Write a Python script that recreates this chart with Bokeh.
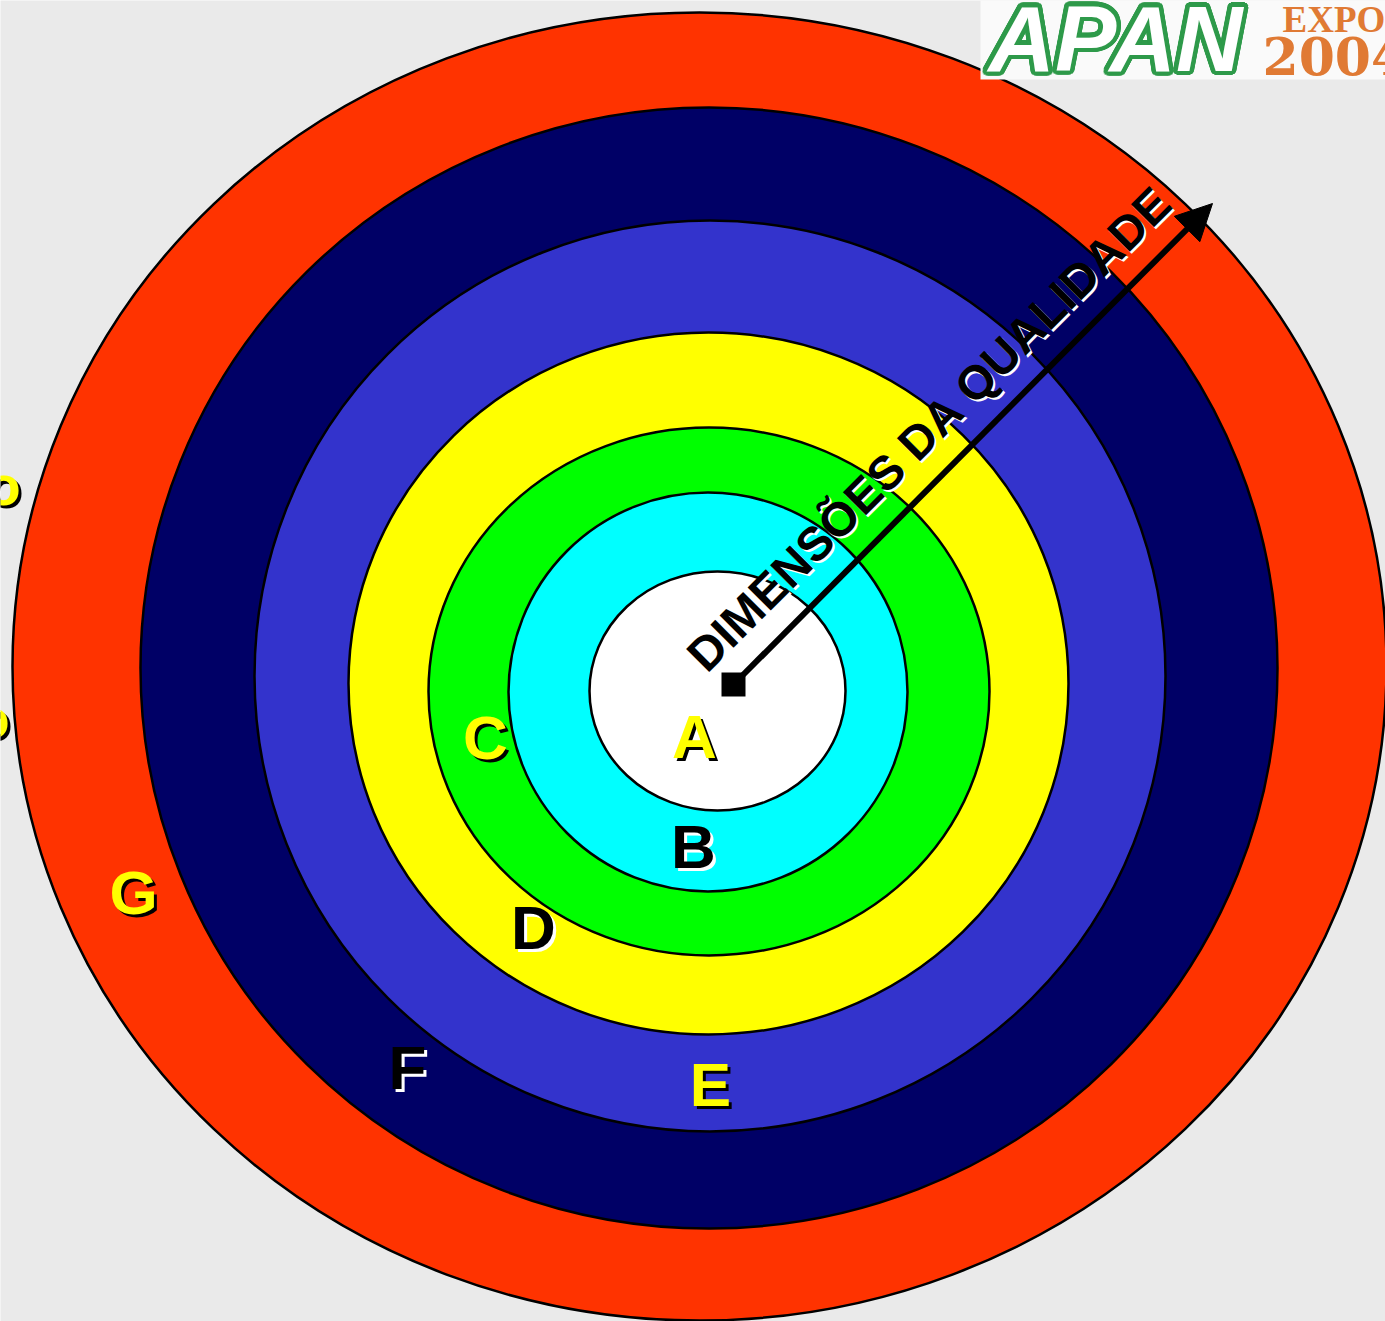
import numpy as np
from bokeh.plotting import figure
from bokeh.models import Range1d, Arrow, NormalHead, ColumnDataSource
from bokeh.core.properties import value
from bokeh.embed import file_html
from bokeh.resources import INLINE

# Slide size in page pixels (y measured downward in the reference)
W, H = 1385, 1321

# Concentric quality rings, outermost first
ring_labels = ["G", "F", "E", "D", "C", "B", "A"]
ring_colors = ["#FF3300", "#000066", "#3333CC", "#FFFF00", "#00FF00", "#00FFFF", "#FFFFFF"]
ring_cx = [699, 708.5, 709.5, 708, 708.5, 707.5, 717]
ring_cy = [666, 667.5, 675.5, 683, 691, 691.5, 690.5]
ring_w = [1374, 1137, 911, 720, 561, 399, 256]
ring_h = [1308, 1121, 911, 702, 528, 399, 239]

# Ring letters
label_x = [133, 407, 710, 533, 485, 693, 694]
label_y = [892, 1067, 1084, 927, 737, 846, 736]
label_color = ["#FFFF00", "#000000", "#FFFF00", "#000000", "#FFFF00", "#000000", "#FFFF00"]
label_shadow = ["#000000", "#FFFFFF", "#000000", "#FFFFFF", "#000000", "#FFFFFF", "#000000"]

# Axis arrow "DIMENSÕES DA QUALIDADE"
axis_title = "DIMENSÕES DA QUALIDADE"
axis_start = (733, 684)
axis_end = (1212, 203)
axis_title_pos = (929, 428)

# Cut-off text fragments at the left edge
frag_text = ["o", "o"]
frag_x = [3, -8]
frag_y = [485, 718]

# Logo texts
logo_main = "APAN"
logo_top = "EXPO"
logo_year = "2004"

BG = "#EAEAEA"


def Y(py):
    return H - py


p = figure(width=W, height=H,
           x_range=Range1d(0, W), y_range=Range1d(0, H),
           output_backend="svg", toolbar_location=None,
           x_axis_type=None, y_axis_type=None, min_border=0,
           background_fill_color=BG, border_fill_color=BG,
           outline_line_color=None)
p.grid.visible = False

# Rings
rings = ColumnDataSource(dict(
    x=ring_cx, y=[Y(v) for v in ring_cy], w=ring_w, h=ring_h, c=ring_colors,
    label=ring_labels))
p.ellipse(x="x", y="y", width="w", height="h", fill_color="c",
          line_color="black", line_width=2.5, source=rings)

# Logo box (top-right)
p.quad(left=[980], right=[1400], top=[Y(-10)], bottom=[Y(79)],
       fill_color="#FAFAFA", line_color=None)
font = value("Liberation Sans")
ang = np.linspace(0, 2 * np.pi, 24, endpoint=False)
logo_x, logo_y = 988, 38
p.text(x=list(logo_x + 4.5 * np.cos(ang)), y=list(Y(logo_y) + 4.5 * np.sin(ang)),
       text=[logo_main] * len(ang), text_font=font, text_font_style="bold italic",
       text_font_size="92px", text_color="#2E9A4A", text_align="left",
       text_baseline="middle")
p.text(x=[logo_x], y=[Y(logo_y)], text=[logo_main], text_font=font,
       text_font_style="bold italic", text_font_size="92px", text_color="#FFFFFF",
       text_align="left", text_baseline="middle")
p.text(x=[1282], y=[Y(19)], text=[logo_top], text_font=value("Liberation Serif"),
       text_font_style="bold", text_font_size="37px", text_color="#E07A34",
       text_align="left", text_baseline="middle")
p.text(x=[1262], y=[Y(55)], text=[logo_year], text_font=value("DejaVu Serif"),
       text_font_style="bold", text_font_size="52px", text_color="#E07A34",
       text_align="left", text_baseline="middle")

# Axis arrow
p.add_layout(Arrow(x_start=axis_start[0], y_start=Y(axis_start[1]),
                   x_end=axis_end[0], y_end=Y(axis_end[1]),
                   line_color="black", line_width=6,
                   end=NormalHead(size=36, fill_color="black", line_color="black")))
p.rect(x=[axis_start[0]], y=[Y(axis_start[1])], width=24, height=24,
       fill_color="black", line_color=None)

# Axis title with white shadow
tx, ty = axis_title_pos
p.text(x=[tx + 2], y=[Y(ty) - 2], text=[axis_title], angle=np.pi / 4,
       text_font=font, text_font_style="bold", text_font_size="47.5px",
       text_color="#FFFFFF", text_align="center", text_baseline="middle")
p.text(x=[tx], y=[Y(ty)], text=[axis_title], angle=np.pi / 4,
       text_font=font, text_font_style="bold", text_font_size="47.5px",
       text_color="#000000", text_align="center", text_baseline="middle")

# Ring letters with shadows
lab = ColumnDataSource(dict(
    x=label_x, y=[Y(v) for v in label_y], sx=[v + 3 for v in label_x],
    sy=[Y(v) - 3 for v in label_y], t=ring_labels, c=label_color, s=label_shadow))
p.text(x="sx", y="sy", text="t", text_color="s", text_font=font,
       text_font_style="bold", text_font_size="62px", text_align="center",
       text_baseline="middle", source=lab)
p.text(x="x", y="y", text="t", text_color="c", text_font=font,
       text_font_style="bold", text_font_size="62px", text_align="center",
       text_baseline="middle", source=lab)

# Left-edge fragments
p.text(x=[v + 3 for v in frag_x], y=[Y(v) - 3 for v in frag_y], text=frag_text,
       text_color="#000000", text_font=font, text_font_style="bold",
       text_font_size="56px", text_align="center", text_baseline="middle")
p.text(x=frag_x, y=[Y(v) for v in frag_y], text=frag_text,
       text_color="#FFFF00", text_font=font, text_font_style="bold",
       text_font_size="56px", text_align="center", text_baseline="middle")

open("out.html", "w").write(file_html(p, INLINE))
